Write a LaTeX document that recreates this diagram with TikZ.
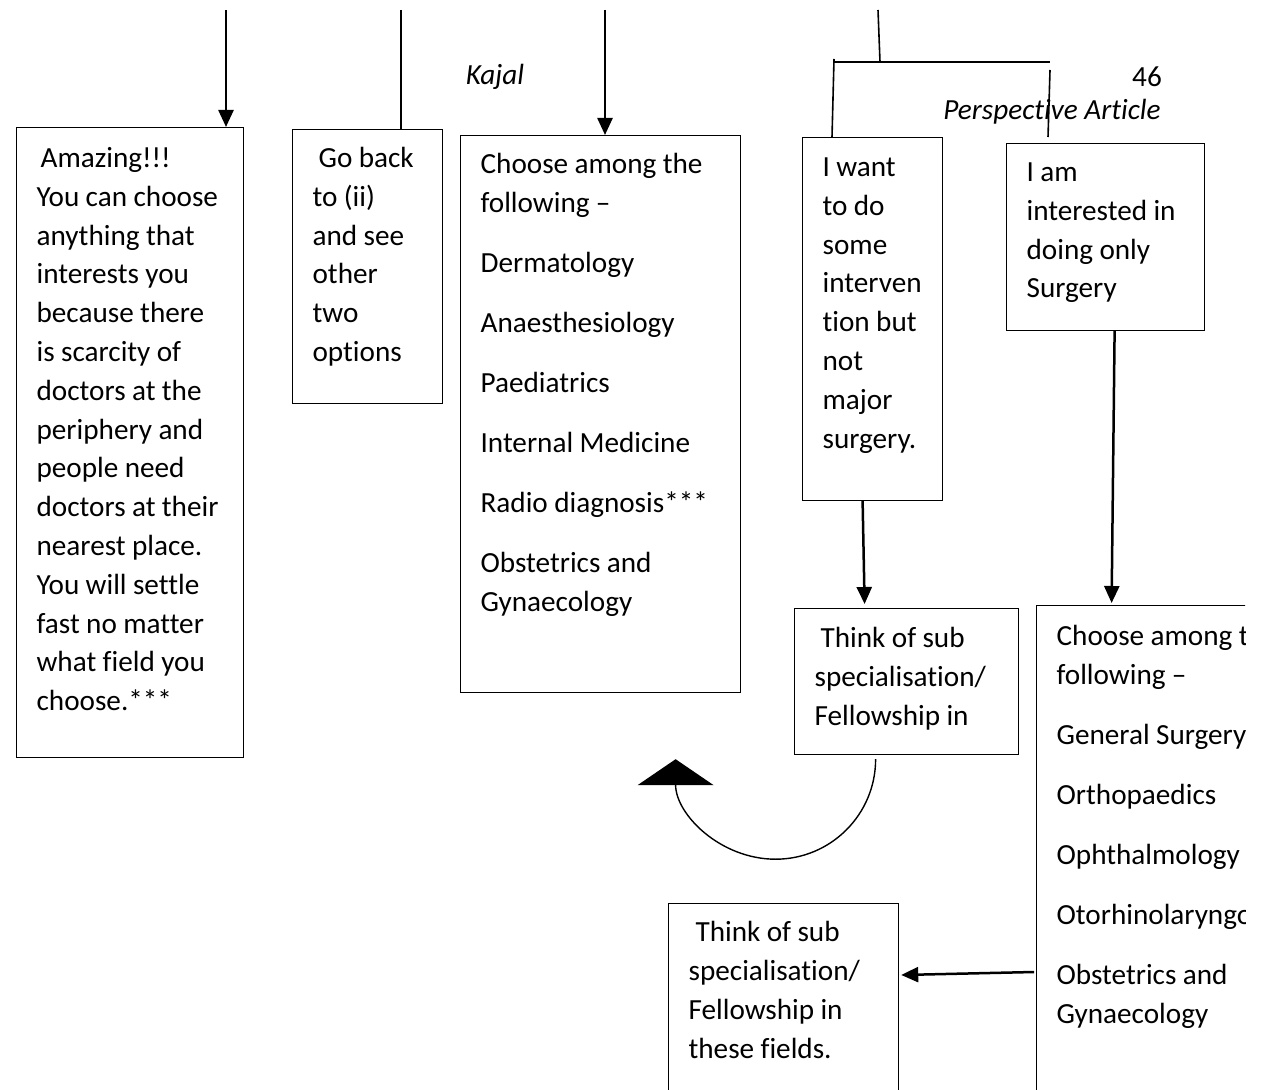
\documentclass[tikz,border=0pt]{standalone}
\usepackage{fontspec}
\setmainfont{Carlito}[Ligatures=NoCommon]
\usetikzlibrary{arrows.meta}
\newcommand{\boxfont}{\fontsize{14.6}{19.4}\selectfont}
\newcommand{\gap}{\\[10.6pt]}

\begin{document}
\begin{tikzpicture}[x=0.5pt, y=-0.5pt,
	every node/.style={font=\boxfont},
	box/.style={draw, line width=0.6pt, anchor=north west, align=left, inner xsep=0pt, inner ysep=0pt,
		execute at begin node={\leftskip=10pt\spaceskip=3.2pt}},
	arr/.style={-{Triangle[width=7.5pt,length=8.5pt]}, line width=1.25pt},
	]
\clip (0,0) rectangle (1267,1090);

% boxes
\node[box, text width=113.5pt, text height=20pt, text depth=295pt] (amazing) at (16,127)
	{\hspace*{2pt}Amazing!!!\\You can choose\\anything that\\interests you\\because there\\is scarcity of\\doctors at the\\periphery and\\people need\\doctors at their\\nearest place.\\You will settle\\fast no matter\\what field you\\choose.***};
\node[box, text width=75pt, text height=19pt, text depth=118pt] (goback) at (292,129)
	{\hspace*{3pt}Go back\\to (ii)\\and see\\other\\two\\options};
\node[box, text width=140pt, text height=19pt, text depth=259.5pt] (choosea) at (460,135)
	{Choose among the\\following –\gap Dermatology\gap Anaesthesiology\gap Paediatrics\gap Internal Medicine\gap Radio diagnosis***\gap Obstetrics and\\Gynaecology};
\node[box, text width=70pt, text height=19.5pt, text depth=162pt] (intervene) at (802,137)
	{I want\\to do\\some\\interven\\tion but\\not\\major\\surgery.};
\node[box, text width=99pt, text height=19pt, text depth=74.5pt] (surgery) at (1006,143)
	{I am\\interested in\\doing only\\Surgery};
\node[box, text width=112pt, text height=19.5pt, text depth=53.5pt] (subspecA) at (794,608)
	{\hspace*{3pt}Think of sub\\specialisation/\\Fellowship in};
\node[box, text width=115pt, text height=19pt, text depth=81pt] (subspecB) at (668,903)
	{\hspace*{3.5pt}Think of sub\\specialisation/\\Fellowship in\\these fields.};
\begin{scope}
\clip (1000,590) rectangle (1245,1090);
\node[box, text width=140pt, text height=20pt, text depth=230pt] (chooseb) at (1036,605)
	{Choose among the\\following –\gap General Surgery\gap Orthopaedics\gap Ophthalmology\gap Otorhinolaryngology\gap Obstetrics and\\Gynaecology};
\end{scope}

% page header
\node[font=\boxfont\itshape] (kajal) at (495,77) {Kajal};
\node (pageno) at (1147,77) {46};
\node[font=\boxfont\itshape] (persp) at (1052,112) {Perspective Article};

% lines coming from the previous page
\coordinate (topA) at (226,10);
\coordinate (topB) at (401,10);
\coordinate (topC) at (605,10);
\coordinate (topD) at (878,10);
\draw[arr] (topA) -- (topA |- amazing.north);
\draw[line width=0.6pt] (topB) -- (topB |- goback.north);
\draw[arr] (topC) -- (topC |- choosea.north);

% bracket
\coordinate (joint) at (880,62);
\coordinate (brL) at (834,62);
\coordinate (brR) at (1050,62);
\draw[line width=0.8pt] (topD) -- (joint);
\draw[line width=0.8pt] (brL) -- (brR);
\draw[line width=0.8pt] ([yshift=1.5pt]brL) -- (832,137);
\draw[line width=0.8pt] ([yshift=-4pt]brR) -- (1048,137);

% arrows between boxes
\draw[arr] ([xshift=-5pt]intervene.south) -- ([xshift=-21pt,yshift=2pt]subspecA.north);
\draw[arr] ([xshift=4.5pt]surgery.south) -- ([xshift=-32.5pt,yshift=1pt]chooseb.north);
\draw[arr] ([xshift=-1pt,yshift=-183.5pt]chooseb.north west) -- ([xshift=1pt,yshift=-36pt]subspecB.north east);
\draw[-{Triangle[width=38pt,length=13pt]}, line width=0.7pt]
	([xshift=-15.5pt,yshift=-2pt]subspecA.south) arc[start angle=0, end angle=180, radius=100];

\end{tikzpicture}
\end{document}
